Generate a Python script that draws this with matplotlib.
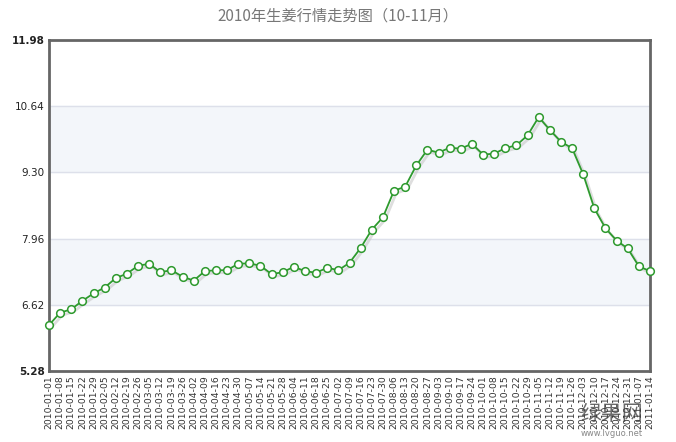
import datetime as dt
import numpy as np
import matplotlib
matplotlib.use('Agg')
import matplotlib.pyplot as plt

plt.rcParams['font.family'] = ['DejaVu Sans', 'Noto Sans CJK SC']

# ── data ──
start = dt.date(2010, 1, 1)
dates = [(start + dt.timedelta(weeks=i)).isoformat() for i in range(55)]
prices = [6.21, 6.46, 6.53, 6.70, 6.85, 6.97, 7.16, 7.25, 7.41, 7.45,
          7.28, 7.32, 7.19, 7.11, 7.30, 7.32, 7.32, 7.45, 7.46, 7.41,
          7.24, 7.28, 7.39, 7.30, 7.27, 7.37, 7.32, 7.47, 7.77, 8.14,
          8.39, 8.93, 9.01, 9.44, 9.76, 9.70, 9.80, 9.78, 9.88, 9.66,
          9.68, 9.79, 9.85, 10.05, 10.42, 10.16, 9.92, 9.79, 9.26, 8.57,
          8.17, 7.92, 7.76, 7.40, 7.30]
yticks = [5.28, 6.62, 7.96, 9.30, 10.64, 11.98]
title = '2010年生姜行情走势图（10-11月）'

fig = plt.figure(figsize=(6.76, 4.42), dpi=100)
ax = fig.add_axes([49/676, 1 - 371/442, 601/676, 331/442])

x = np.arange(len(prices))

# alternating bands
for i in range(len(yticks) - 1):
    if i % 2 == 1:
        ax.axhspan(yticks[i], yticks[i + 1], color='#f3f6fa', zorder=0)
for y in yticks[1:-1]:
    ax.axhline(y, color='#dde0ea', lw=1, zorder=1)

# shadow line
ax.plot(x + 0.2, np.array(prices) - 0.05, color='#c8c8c8', lw=2,
        alpha=0.6, zorder=2)
ax.plot(x, prices, color='#2e9a2e', lw=1.3, marker='o', ms=5.5,
        mfc='white', mec='#2e9a2e', mew=1.1, zorder=3, clip_on=False)

ax.set_xlim(0, len(prices) - 1)
ax.set_ylim(yticks[0], yticks[-1])
ax.set_yticks(yticks)
ax.set_yticklabels(['%.2f' % v for v in yticks], fontsize=7.5, color='#222222')
for lbl in (ax.get_yticklabels()[0], ax.get_yticklabels()[-1]):
    lbl.set_fontweight('bold')
ax.set_xticks(x)
ax.set_xticklabels(dates, rotation=90, fontsize=6.7, color='#333333')
ax.tick_params(length=0, pad=3)

for s in ax.spines.values():
    s.set_color('#666666')
    s.set_linewidth(2)

fig.text(0.5, 1 - 16/442, title, ha='center', va='center', fontsize=11,
         color='#777777', family=['Noto Sans CJK SC', 'DejaVu Sans'])

# watermark, as in the reference (it sits over the last tick labels)
fig.text(612/676, 1 - 414/442, '绿果网', ha='center', va='center', fontsize=15,
         color='#3a3a3a', alpha=0.75, family=['Noto Sans CJK SC', 'DejaVu Sans'])
fig.text(612/676, 1 - 433/442, 'www.lvguo.net', ha='center', va='center',
         fontsize=6, color='#888888')

fig.savefig('out.png', dpi=100, facecolor='white')
plt.close()
